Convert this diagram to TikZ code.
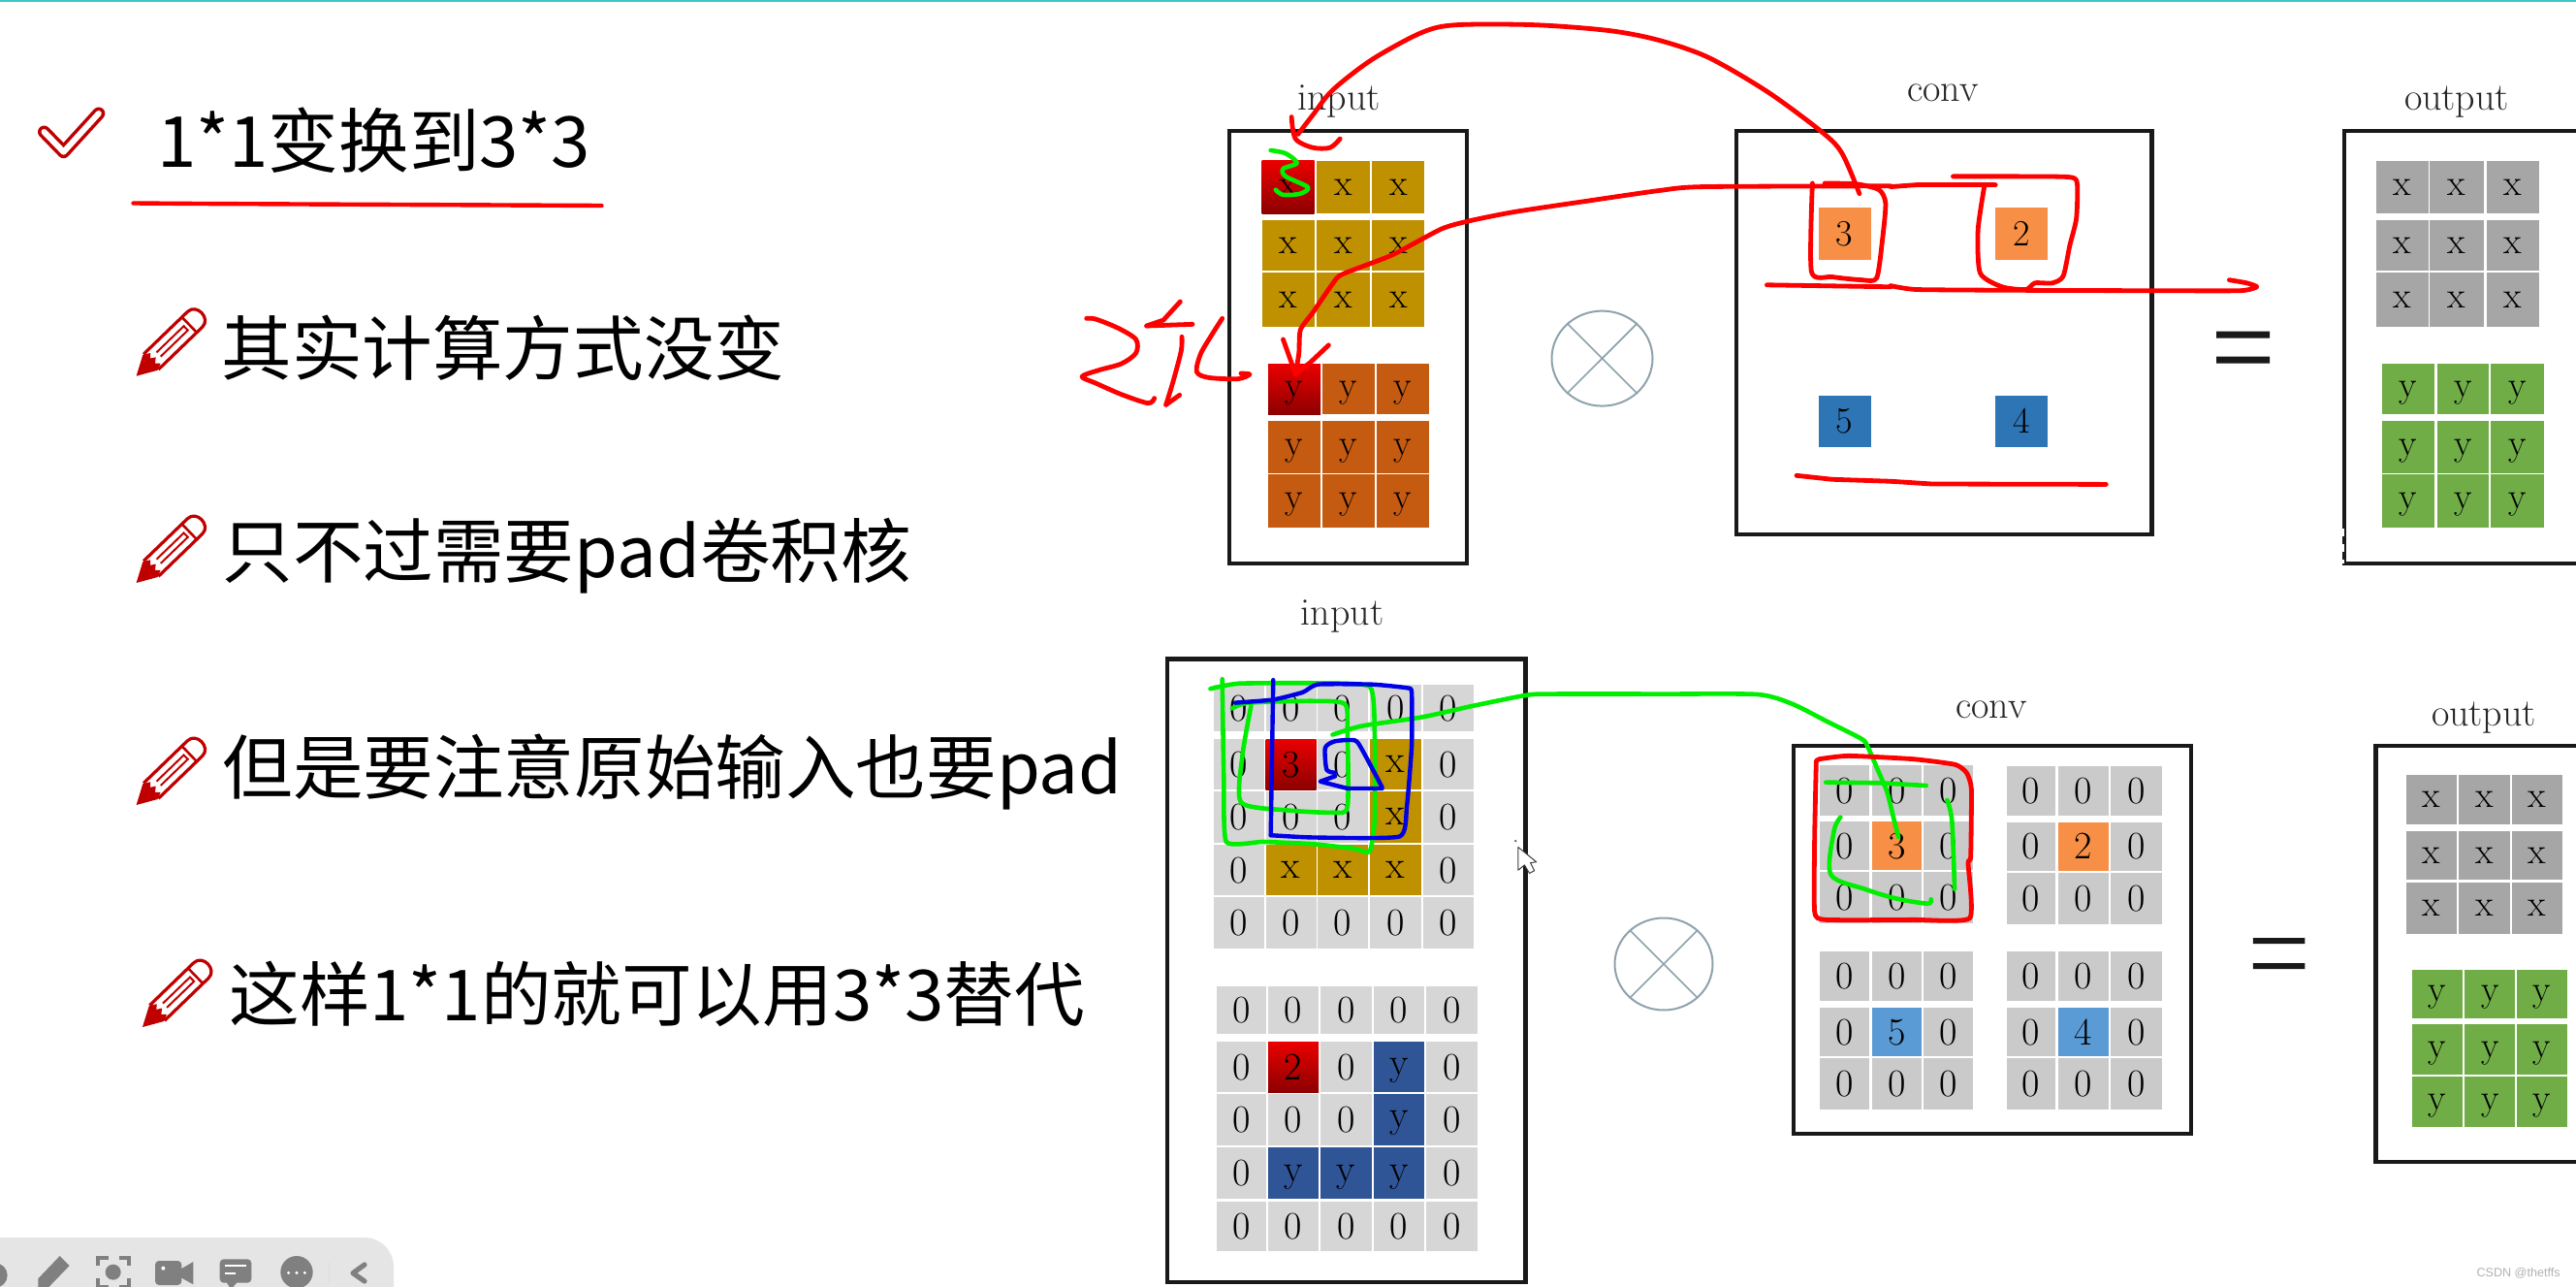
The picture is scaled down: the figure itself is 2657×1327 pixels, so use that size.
\documentclass[tikz,border=0pt]{standalone}
\usepackage{fontspec}
\usetikzlibrary{shapes.geometric}
\newfontfamily\cjk{Noto Sans CJK SC}
\newfontfamily\wmfont{Liberation Sans}
\definecolor{gold}{HTML}{BF9000}
\definecolor{rust}{HTML}{C55A11}
\definecolor{navy}{HTML}{2F5597}
\definecolor{lgray}{HTML}{D6D6D6}
\definecolor{mgray}{HTML}{CACACA}
\definecolor{dgray}{HTML}{A6A6A6}
\definecolor{leaf}{HTML}{70AD47}
\definecolor{orng}{HTML}{F79046}
\definecolor{sblue}{HTML}{2E75B6}
\definecolor{lblue}{HTML}{5B9BD5}
\definecolor{inkred}{HTML}{FF0000}
\definecolor{inkgreen}{HTML}{00EE00}
\definecolor{inkblue}{HTML}{0000E6}
\definecolor{iconred}{HTML}{C00000}
\definecolor{tool}{HTML}{808080}
\definecolor{opgray}{HTML}{8FA3AD}
\definecolor{topline}{HTML}{3CC8C8}
\tikzset{
  cellbox/.style={inner sep=0pt,outer sep=0pt,text=black,text depth=0pt},
  redgrad/.style={top color=red!92!black,bottom color=red!55!black},
  frame/.style={draw=black!90,line width=2.2pt,inner sep=0pt,outer sep=0pt},
  lab/.style={inner sep=0pt,text=black!85,font=\fontsize{20}{24}\selectfont},
  bullet/.style={anchor=west,inner sep=0pt,font=\cjk\fontsize{36.3}{42}\selectfont},
  otimes/.style={draw=opgray,line width=1pt,shape=ellipse,inner sep=0pt,minimum width=52pt,minimum height=49pt},
  ink/.style={line width=2.4pt,line cap=round,line join=round},
  redink/.style={ink,draw=inkred},
  greenink/.style={ink,draw=inkgreen,line width=2.3pt},
  blueink/.style={ink,draw=inkblue,line width=2.2pt},
  zoomA/.style={shift={(1150,0)},x=0.2551pt,y=-0.19771pt},
  zoomB/.style={shift={(1150,620)},x=0.2551pt,y=-0.22543pt},
  zoomD/.style={shift={(1950,0)},x=0.22543pt,y=-0.19771pt},
  zoomE/.style={shift={(1840,770)},x=0.16667pt,y=-0.16667pt},
  zoomG/.style={shift={(1090,290)},x=0.16667pt,y=-0.16667pt},
  zoomT/.style={shift={(0,1240)},x=0.16667pt,y=-0.16667pt},
}
\newcommand\cellat[7][cellbox]{%
  \pgfmathsetlengthmacro\cw{(#4-#2)*0.5pt}%
  \pgfmathsetlengthmacro\ch{(#5-#3)*0.5pt}%
  \node[#1,#6,minimum width=\cw,minimum height=\ch,font=\fontsize{19}{19}\selectfont] (#7) at ({(#2+#4)/2},{(#3+#5)/2}) {\celltext};}
\def\celltext{}
% \gridat{styles}{name}{font size}{left edges}{right edges}{rows}
\newcommand\gridat[6]{%
  \begin{scope}[#1]
  \foreach \ya/\yb/\rowlist [count=\rr] in {#6}{%
    \foreach \v [count=\cc] in \rowlist {%
      \pgfmathsetmacro\xa{{#4}[\cc-1]}%
      \pgfmathsetmacro\xb{{#5}[\cc-1]}%
      \pgfmathsetlengthmacro\cw{(\xb-\xa)*0.5pt}%
      \pgfmathsetlengthmacro\ch{(\yb-\ya)*0.5pt}%
      \node[cellbox,s\v,minimum width=\cw,minimum height=\ch,font=\fontsize{#3}{#3}\selectfont]
        (#2-\rr-\cc) at ({(\xa+\xb)/2},{(\ya+\yb)/2}) {\v};
    }%
  }%
  \end{scope}}
\newcommand\pencilicon[2]{%
  \begin{scope}[shift={(#1,#2)},rotate=44]
    \fill[iconred] (0,0) -- (20,-11) -- (27,-7) -- (23,-3) -- (28,0) -- (23,4) -- (27,8) -- (20,11) -- cycle;
    \draw[iconred,line width=1.6pt,line join=round] (21,-11) -- (84,-11) .. controls (97,-11) and (97,11) .. (84,11) -- (21,11);
    \draw[iconred,line width=1.3pt] (76,-11) -- (76,11);
    \draw[iconred,line width=1pt] (32,-3) -- (71,-3) -- (71,3) -- (32,3);
  \end{scope}}
\begin{document}
\begin{tikzpicture}[x=0.5pt,y=-0.5pt]
\clip (0,0) rectangle (2657,1327);
\fill[white] (0,0) rectangle (2657,1327);
\fill[topline] (0,0) rectangle (2657,2);

% left text
\draw[iconred,line width=6.5pt,line cap=round,line join=round] (45.5,136) -- (65.6,156.7) -- (101.8,117);
\draw[white,line width=3pt,line cap=round,line join=round] (45.5,136) -- (65.6,156.7) -- (101.8,117);
\node[bullet] (t0) at (162,145) {1*1变换到3*3};
\draw[inkred,line width=2.2pt,line cap=round] (137.5,209.5) -- (205,210) -- (620.5,212);
\pencilicon{140.6}{387.7}
\pencilicon{140.6}{601}
\pencilicon{140.6}{830}
\pencilicon{147}{1059}
\node[bullet] (t1) at (228,359) {其实计算方式没变};
\node[bullet] (t2) at (229,573) {只不过需要pad卷积核};
\node[bullet] (t3) at (229,796) {但是要注意原始输入也要pad};
\node[bullet] (t4) at (236,1025) {这样1*1的就可以用3*3替代};

% toolbar
\fill[black!10,rounded corners=15pt] (-60,1276) rectangle (406,1400);
\begin{scope}[zoomT,tool]
  \fill (-15,225) circle [radius=38];
  \fill (118,235) -- (185,165) -- (215,195) -- (150,262) -- (118,262) -- cycle;
  \fill (350,215) circle [radius=24];
  \draw[line width=2pt] (302,195) |- (335,170) (368,170) -| (400,195) (302,235) |- (335,262) (400,235) |- (368,262);
  \fill[rounded corners=2pt] (480,180) rectangle (562,255);
  \fill (560,205) -- (598,183) -- (598,253) -- (560,232) -- cycle;
  \fill[white] (505,203) circle [radius=6];
  \fill[rounded corners=2pt] (680,175) rectangle (778,248);
  \fill (700,245) -- (735,245) -- (715,268) -- cycle;
  \draw[white,line width=1pt] (695,195) -- (762,195) (695,218) -- (730,218);
  \fill (918,215) circle [radius=50];
  \fill[white] (893,217) circle [radius=5] (918,217) circle [radius=5] (943,217) circle [radius=5];
  \draw[black!14,line width=.6pt] (1018,185) -- (1018,245);
  \draw[line width=2.6pt,line join=round,line cap=round] (1128,192) -- (1092,218) -- (1128,243);
\end{scope}

% frames
\cellat[frame]{1268}{135}{1513}{581}{}{boxA}
\cellat[frame]{1791}{135}{2219.6}{551}{}{boxB}
\cellat[frame]{2418}{135}{2760}{581}{}{boxC}
\cellat[frame]{1204}{679.5}{1573.5}{1322}{}{boxD}
\cellat[frame]{1850}{769}{2260}{1169}{}{boxE}
\cellat[frame]{2450.5}{769}{2760}{1198}{}{boxF}
\draw[white,dashed,line width=.9pt,dash pattern=on 4pt off 4pt] (2417,545) -- (2417,581);

% labels
\node[lab] (lab1) at (1381,105) {input};
\node[lab] (lab2) at (2004,95.6) {conv};
\node[lab] (lab3) at (2534,105) {output};
\node[lab] (lab4) at (1384.7,635) {input};
\node[lab] (lab5) at (2053.7,731.5) {conv};
\node[lab] (lab6) at (2562,740.5) {output};

% top grids
\gridat{sx/.style={fill=gold}}{ax}{19}{1301.5,1357.7,1415}{1355.6,1413,1469.4}
 {166/220/{x,x,x},227/279/{x,x,x},281/337/{x,x,x}}
\node[cellbox,redgrad,minimum width=27pt,minimum height=27pt,font=\fontsize{19}{19}\selectfont] (ax-red) at (1328.5,193) {x};
\gridat{sy/.style={fill=rust}}{ay}{19}{1308,1364,1420}{1362,1418,1474}
 {375/427/{y,y,y},434/488/{y,y,y},489/544/{y,y,y}}
\node[cellbox,redgrad,minimum width=27pt,minimum height=26pt,font=\fontsize{19}{19}\selectfont] (ay-red) at (1335,401) {y};
\def\celltext{3}\cellat{1875.5}{214}{1929.6}{268}{fill=orng}{b1}
\def\celltext{2}\cellat{2058}{214}{2112}{268}{fill=orng}{b2}
\def\celltext{5}\cellat{1875.5}{407.5}{1929.6}{460.5}{fill=sblue}{b3}
\def\celltext{4}\cellat{2058}{407.5}{2112}{460.5}{fill=sblue}{b4}
\def\celltext{}
\gridat{sx/.style={fill=dgray}}{cx}{19}{2450.5,2506,2564.5}{2505,2562,2618.6}
 {166/220/{x,x,x},227/279/{x,x,x},281/337/{x,x,x}}
\gridat{sy/.style={fill=leaf}}{cy}{19}{2457,2513.6,2569}{2511,2567,2623.6}
 {375/427/{y,y,y},434/488/{y,y,y},489/544/{y,y,y}}

% bottom grids
\gridat{s0/.style={fill=lgray},sx/.style={fill=gold},s3/.style={redgrad}}{dx}{20}
 {1252,1305.6,1359,1413,1468}{1304,1357.6,1411,1466,1520}
 {705.7/754/{0,0,0,0,0},762/814/{0,3,0,x,0},815.7/869/{0,0,0,x,0},871/923/{0,x,x,x,0},925/978/{0,0,0,0,0}}
\gridat{s0/.style={fill=lgray},sy/.style={fill=navy},s2/.style={redgrad}}{dy}{20}
 {1254.6,1308,1362,1417,1471.4}{1306,1360,1415,1469,1523.5}
 {1016.7/1066/{0,0,0,0,0},1074/1126/{0,2,0,y,0},1127.7/1181/{0,0,0,y,0},1183/1236/{0,y,y,y,0},1238.6/1290/{0,0,0,0,0}}
\gridat{s0/.style={fill=mgray},s3/.style={fill=orng}}{e1}{20}
 {1876.7,1930.7,1984}{1928,1981.7,2035}
 {789/840.7/{0,0,0},847/897/{0,3,0},899/952/{0,0,0}}
\gridat{s0/.style={fill=mgray},s2/.style={fill=orng}}{e2}{20}
 {2069.5,2123,2176.8}{2120.4,2174.5,2230}
 {789.5/840.5/{0,0,0},847.7/897.7/{0,2,0},899.5/952.7/{0,0,0}}
\gridat{s0/.style={fill=mgray},s5/.style={fill=lblue}}{e3}{20}
 {1876.7,1930.7,1984}{1928,1981.7,2035}
 {980.7/1031.6/{0,0,0},1039/1089/{0,5,0},1091/1144/{0,0,0}}
\gridat{s0/.style={fill=mgray},s4/.style={fill=lblue}}{e4}{20}
 {2069.5,2123,2176.8}{2120.4,2174.5,2230}
 {980.7/1031.6/{0,0,0},1039/1089/{0,4,0},1091/1144/{0,0,0}}
\gridat{sx/.style={fill=dgray}}{fx}{19}{2482,2536,2591}{2534,2589,2643}
 {798.5/850/{x,x,x},856.7/907/{x,x,x},909.5/962.7/{x,x,x}}
\gridat{sy/.style={fill=leaf}}{fy}{19}{2488,2542.4,2596}{2540,2594,2647.5}
 {999.6/1049.7/{y,y,y},1056.4/1108/{y,y,y},1110/1162/{y,y,y}}

% otimes and equals
\node[otimes] (op1) at (1652.5,369.6) {};
\draw[opgray,line width=.8pt] (op1.45) -- (op1.225) (op1.135) -- (op1.315);
\node[otimes,minimum width=101pt*0.5,minimum height=95pt*0.5] (op2) at (1716,994) {};
\draw[opgray,line width=.8pt] (op2.45) -- (op2.225) (op2.135) -- (op2.315);
\fill[black!90] (2286,341.5) rectangle (2341,348.5) (2286,367.5) rectangle (2341,374.5);
\fill[black!90] (2323.8,967) rectangle (2377.4,973) (2323.8,993) rectangle (2377.4,999);

% watermark
\node[inner sep=0pt,anchor=east,text=black!30,font=\wmfont\fontsize{6.3}{8}\selectfont] (wm) at (2641,1312.5) {CSDN @thetffs};

% cursor
\begin{scope}[zoomB]
  \fill[black!70] (810,548) circle [radius=2.5];
  \draw[black!75,fill=white,line width=.5pt,line join=round] (815,562) -- (815,615) -- (828,603) -- (838,622) -- (848,616) -- (840,598) -- (852,596) -- cycle;
\end{scope}

% red ink, top
\begin{scope}[zoomA]
  \draw[redink] plot[smooth,tension=.5] coordinates {(1505,505) (1470,400) (1430,345) (1320,240) (1200,150) (1100,105) (1000,80) (850,65) (690,65) (620,85) (520,155) (440,235) (400,300) (370,350)};
  \draw[redink] plot[smooth,tension=.5] coordinates {(357,305) (365,362) (400,385) (435,385) (455,362)};
  \draw[redink] plot[smooth,tension=.4] coordinates {(1568,485) (1190,487) (1100,497) (950,525) (810,552) (720,575) (660,597) (560,665) (460,715) (440,740) (400,815) (375,860) (372,920) (365,975)};
  \draw[redink] (340,885) -- (365,975) -- (395,945) -- (432,900);
  \draw[redink] plot[smooth,tension=.4] coordinates {(1410,478) (1408,708) (1450,722) (1510,730) (1540,725) (1552,620) (1558,530) (1545,495) (1500,480) (1435,478)};
  \draw[redink] (1318,743) -- (1568,748);
  \draw[redink] (1378,1240) -- (1450,1250) -- (1568,1255);
  \draw[greenink] plot[smooth,tension=.5] coordinates {(315,392) (345,400) (368,425) (340,440) (345,460) (390,488) (375,505) (340,508) (325,495)};
\end{scope}
\begin{scope}[zoomD]
  \draw[redink] (0,487) -- (60,482) -- (240,482);
  \draw[redink] plot[smooth,tension=.3] coordinates {(0,745) (60,755) (300,757) (600,758) (800,758) (838,748) (815,738) (775,730)};
  \draw[redink] plot[smooth,tension=.4] coordinates {(143,460) (290,460) (410,462) (427,480) (425,570) (410,640) (395,720) (370,738) (330,738) (310,755) (255,748) (205,712) (200,600) (215,482)};
  \draw[redink] (0,1255) -- (95,1262) -- (493,1263);
\end{scope}
\begin{scope}[zoomG]
  \draw[redink] plot[smooth,tension=.5] coordinates {(92,115) (120,117) (190,145) (245,180) (245,222) (200,255) (130,275) (78,295) (120,315) (200,350) (282,377) (302,362)};
  \draw[redink] (278,138) -- (330,120) -- (382,63);
  \draw[redink] (278,138) -- (420,133);
  \draw[redink] plot[smooth,tension=.5] coordinates {(387,172) (385,215) (360,310) (338,382)};
  \draw[redink] (338,382) -- (380,352);
  \draw[redink] plot[smooth,tension=.5] coordinates {(512,115) (480,165) (445,225) (433,280) (470,298) (560,302) (597,288) (570,285)};
\end{scope}

% green and blue ink, bottom
\begin{scope}[zoomB]
  \draw[greenink] plot[smooth,tension=.3] coordinates {(193,200) (250,188) (400,187) (515,195) (525,300) (525,500) (515,572) (480,565) (400,555) (300,550) (225,550) (220,400) (217,178)};
  \draw[greenink] plot[smooth,tension=.4] coordinates {(237,245) (270,232) (400,228) (465,235) (470,300) (470,470) (440,483) (350,478) (255,460) (258,350) (275,240)};
  \draw[greenink] plot[smooth,tension=.4] coordinates {(440,305) (500,285) (620,265) (720,240) (830,215) (880,212) (1110,212) (1300,213) (1370,235) (1440,275) (1510,315) (1522,333) (1542,385) (1561,436) (1574,495) (1584,539)};
  \draw[blueink] (320,180) -- (315,535);
  \draw[blueink] plot[smooth,tension=.3] coordinates {(315,535) (400,540) (575,538) (590,470) (600,330) (600,208) (590,198) (520,190) (410,190) (380,208) (320,225) (243,232)};
  \draw[blueink] plot[smooth,tension=.4] coordinates {(540,425) (500,340) (485,318) (445,320) (425,335) (428,385) (445,392)};
  \draw[blueink] (445,400) -- (415,412) -- (470,428) -- (540,428);
\end{scope}
\begin{scope}[zoomE]
  \draw[greenink] (130,110) -- (300,112) -- (440,120);
  \draw[greenink] plot[smooth,tension=.5] coordinates {(505,165) (520,230) (528,440)};
  \draw[greenink] plot[smooth,tension=.5] coordinates {(175,218) (155,260) (145,395) (250,440) (350,470) (445,485) (455,472)};
  \draw[redink] plot[smooth,tension=.3] coordinates {(100,45) (110,38) (200,28) (400,38) (530,55) (565,80) (580,130) (578,340) (570,360) (575,530) (400,535) (130,535) (95,510) (95,280) (100,45)};
\end{scope}
\end{tikzpicture}
\end{document}
